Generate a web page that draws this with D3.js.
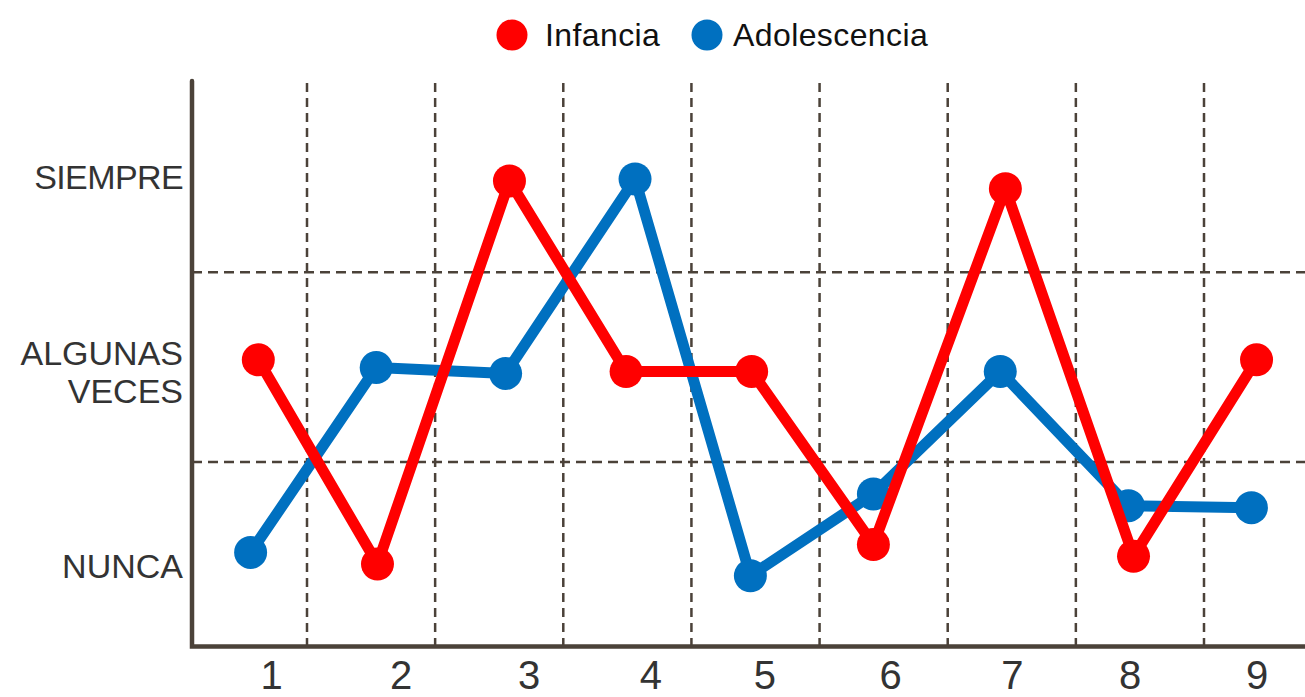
<!DOCTYPE html>
<html>
<head>
<meta charset="utf-8">
<title>Infancia y Adolescencia</title>
<script src="https://d3js.org/d3.v7.min.js"></script>
<style>
  body { margin: 0; background: #fff; }
  text { font-family: "Liberation Sans", Arial, sans-serif; }
</style>
</head>
<body>
<script>
// values; x in item units (grid lines sit at k + 0.5)
var infanciaX = [1.12, 2.05, 3.08, 3.99, 4.97, 5.92, 6.95, 7.95, 8.91];
var infanciaY = [1.06, 0.01, 1.98, 1.00, 1.00, 0.11, 1.94, 0.05, 1.06];
var adolescX = [1.06, 2.04, 3.05, 4.06, 4.96, 5.92, 6.91, 7.91, 8.87];
var adolescY = [0.07, 1.02, 0.99, 1.99, -0.05, 0.37, 1.00, 0.31, 0.30];

var xLabels = ["1", "2", "3", "4", "5", "6", "7", "8", "9"];
var xLabelPos = [1.22, 2.23, 3.23, 4.18, 5.07, 6.05, 7.0, 7.92, 8.91];
var xGrid = [1.5, 2.5, 3.5, 4.5, 5.5, 6.5, 7.5, 8.5];

var yLevels = [0, 1, 2];
var yLabels = [["NUNCA"], ["ALGUNAS", "VECES"], ["SIEMPRE"]];
var yGrid = [0.535, 1.51];

var series = [
  { name: "Adolescencia", color: "#0070c0", xs: adolescX, ys: adolescY },
  { name: "Infancia", color: "#ff0000", xs: infanciaX, ys: infanciaY }
];
var legend = [
  { name: "Infancia", color: "#ff0000" },
  { name: "Adolescencia", color: "#0070c0" }
];

var width = 1305, height = 697;
var axisColor = "#4b4239";

var x = d3.scaleLinear().domain([1.5, 8.5]).range([307, 1204]);
var y = d3.scaleLinear().domain([0, 2]).range([566, 177]);

var plotLeft = 192, plotTop = 81, plotBottom = 646.5;

var svg = d3.select("body").append("svg")
  .attr("width", width)
  .attr("height", height);

// dashed grid
svg.append("g").selectAll("line")
  .data(xGrid)
  .enter().append("line")
    .attr("x1", function(d) { return x(d); })
    .attr("x2", function(d) { return x(d); })
    .attr("y1", 83)
    .attr("y2", plotBottom)
    .attr("stroke", axisColor)
    .attr("stroke-width", 2.5)
    .attr("stroke-dasharray", "9,6");

svg.append("g").selectAll("line")
  .data(yGrid)
  .enter().append("line")
    .attr("x1", plotLeft)
    .attr("x2", width)
    .attr("y1", function(d) { return y(d); })
    .attr("y2", function(d) { return y(d); })
    .attr("stroke", axisColor)
    .attr("stroke-width", 2.5)
    .attr("stroke-dasharray", "10,6");

// axes
svg.append("path")
  .attr("d", "M" + plotLeft + "," + plotTop + "V" + plotBottom + "H" + width)
  .attr("fill", "none")
  .attr("stroke", axisColor)
  .attr("stroke-width", 4.5)
  .attr("stroke-linecap", "round")
  .attr("stroke-linejoin", "miter");

// x labels via d3 axis
var xAxis = d3.axisBottom(x)
  .tickValues(xLabelPos)
  .tickSize(0)
  .tickFormat(function(d, i) { return xLabels[i]; });

var gx = svg.append("g")
  .attr("transform", "translate(0," + plotBottom + ")")
  .call(xAxis);
gx.select(".domain").remove();
gx.selectAll("text")
  .attr("dy", null)
  .attr("y", 42)
  .attr("fill", "#333")
  .style("font-size", "40px")
  .style("font-family", "'Liberation Sans', Arial, sans-serif");

// y labels
var yl = svg.append("g").selectAll("text")
  .data(yLevels)
  .enter().append("text")
    .attr("text-anchor", "end")
    .attr("fill", "#333")
    .style("font-size", "34px")
    .attr("transform", function(d) { return "translate(183," + y(d) + ")"; });

yl.each(function(d, i) {
  var lines = yLabels[i];
  var t = d3.select(this);
  lines.forEach(function(s, j) {
    t.append("tspan")
      .attr("x", 0)
      .attr("y", (j - (lines.length - 1) / 2) * 38 + 12)
      .attr("letter-spacing", s === "SIEMPRE" ? "-0.6" : "0")
      .text(s);
  });
});

// lines and points
var line = d3.line()
  .x(function(d) { return x(d[0]); })
  .y(function(d) { return y(d[1]); });

series.forEach(function(s) {
  var pts = d3.zip(s.xs, s.ys);
  var g = svg.append("g");
  g.append("path")
    .datum(pts)
    .attr("d", line)
    .attr("fill", "none")
    .attr("stroke", s.color)
    .attr("stroke-width", 11)
    .attr("stroke-linejoin", "round");
  g.selectAll("circle")
    .data(pts)
    .enter().append("circle")
      .attr("cx", function(d) { return x(d[0]); })
      .attr("cy", function(d) { return y(d[1]); })
      .attr("r", 16.5)
      .attr("fill", s.color);
});

// legend
var lg = svg.append("g");
var legX = [512, 707];
legend.forEach(function(d, i) {
  lg.append("circle")
    .attr("cx", legX[i])
    .attr("cy", 35)
    .attr("r", 15.5)
    .attr("fill", d.color);
  lg.append("text")
    .attr("x", legX[i] + (i === 0 ? 33 : 26))
    .attr("y", 46)
    .attr("fill", "#111")
    .attr("letter-spacing", "0.4")
    .style("font-size", "32px")
    .text(d.name);
});
</script>
</body>
</html>
